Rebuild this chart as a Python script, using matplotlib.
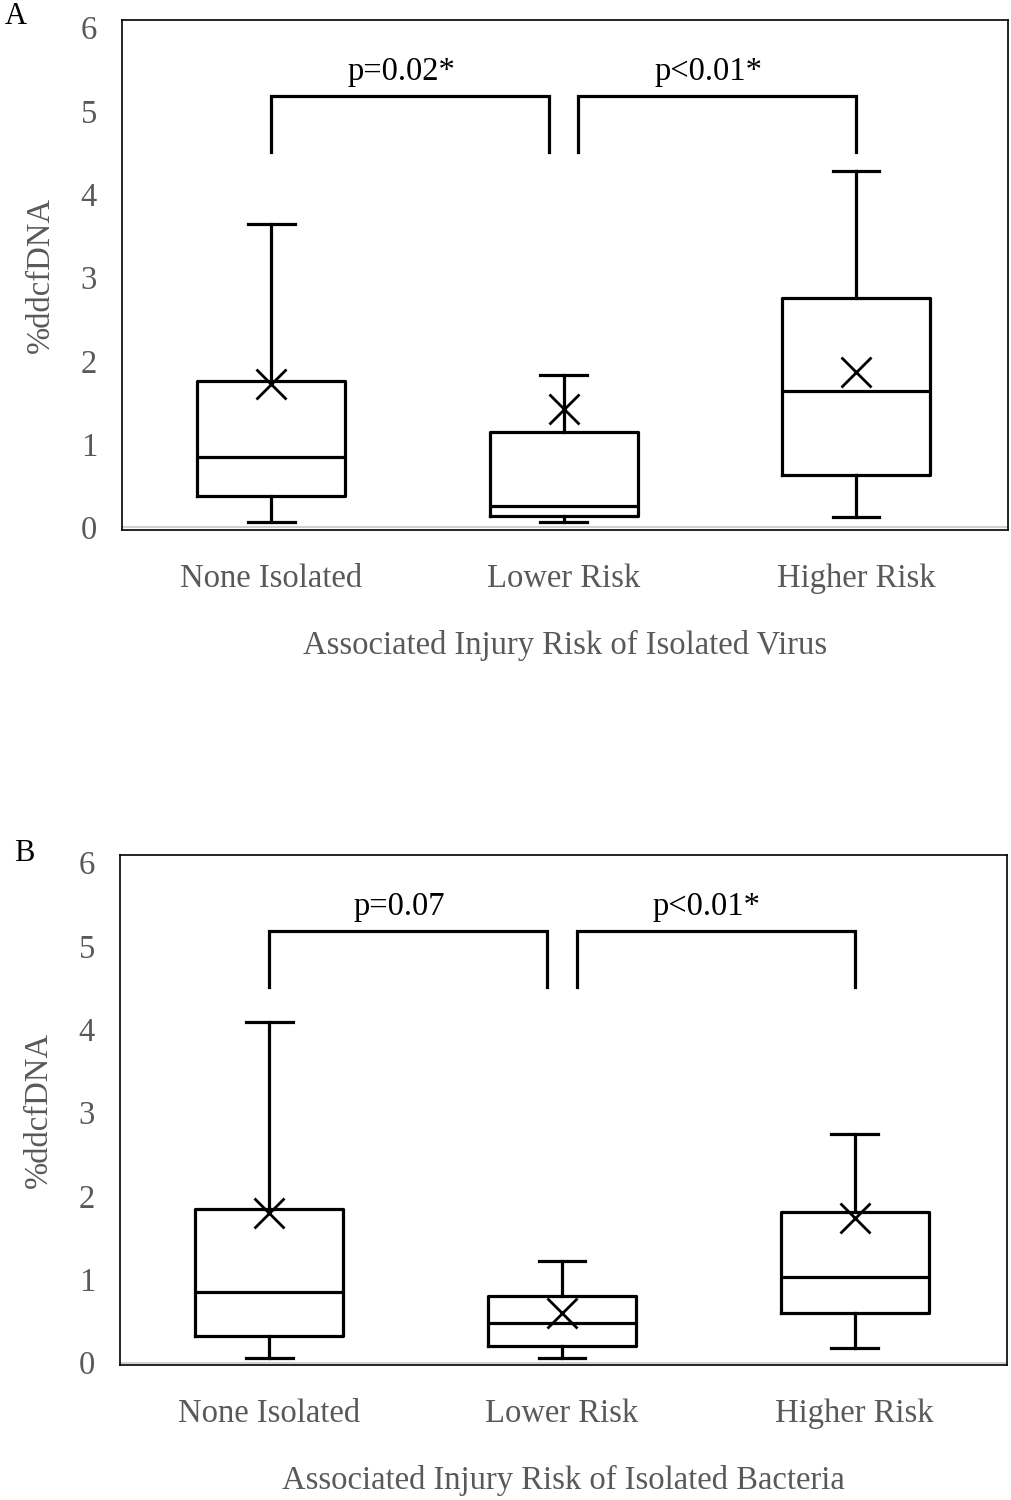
import matplotlib
matplotlib.use("Agg")
import matplotlib.pyplot as plt

plt.rcParams['font.family'] = ['Liberation Serif', 'DejaVu Serif']

categories = ["None Isolated", "Lower Risk", "Higher Risk"]
yticks = [0, 1, 2, 3, 4, 5, 6]

# Panel A (virus)
a_whislo = [0.06, 0.06, 0.12]
a_q1 = [0.38, 0.14, 0.63]
a_med = [0.85, 0.26, 1.64]
a_q3 = [1.76, 1.14, 2.75]
a_whishi = [3.64, 1.83, 4.28]
a_mean = [1.72, 1.42, 1.86]
a_pvals = ["p=0.02*", "p<0.01*"]

# Panel B (bacteria)
b_whislo = [0.06, 0.06, 0.18]
b_q1 = [0.32, 0.20, 0.60]
b_med = [0.85, 0.48, 1.03]
b_q3 = [1.84, 0.80, 1.81]
b_whishi = [4.09, 1.22, 2.74]
b_mean = [1.79, 0.60, 1.74]
b_pvals = ["p=0.07", "p<0.01*"]

fig = plt.figure(figsize=(10.12, 15), dpi=100)

GRAY = "#595959"
FS = 23.5


def panel(rect, whislo, q1, med, q3, whishi, mean, pvals, xlabel, letter, letter_xy):
    ax = fig.add_axes(rect)
    stats = []
    for i in range(3):
        stats.append(dict(whislo=whislo[i], q1=q1[i], med=med[i], q3=q3[i],
                          whishi=whishi[i], mean=mean[i], fliers=[]))
    lw = 2.3
    ax.bxp(stats, positions=range(3), widths=0.506, showmeans=True,
           showfliers=False,
           boxprops=dict(color="black", linewidth=lw),
           medianprops=dict(color="black", linewidth=lw),
           whiskerprops=dict(color="black", linewidth=lw),
           capprops=dict(color="black", linewidth=lw),
           capwidths=0.16,
           meanprops=dict(marker="x", markersize=22, markeredgecolor="black",
                          markeredgewidth=2.0))
    ax.set_xlim(-0.51, 2.52)
    ax.set_ylim(-0.03, 6.09)
    ax.axhline(0, color="#d0d0d0", linewidth=1.5, zorder=0)
    ax.set_yticks(yticks)
    ax.set_xticks(range(3))
    ax.set_xticklabels(categories)
    ax.tick_params(axis="both", length=0, labelsize=FS, labelcolor=GRAY)
    ax.tick_params(axis="y", pad=18)
    ax.tick_params(axis="x", pad=24)
    for s in ax.spines.values():
        s.set_linewidth(1.2)
        s.set_color("black")
    ax.set_xlabel(xlabel, fontsize=FS, color=GRAY, labelpad=26)
    ax.set_ylabel("%ddcfDNA", fontsize=FS, color=GRAY, labelpad=18)
    # significance brackets
    top = 5.18
    drops = 4.5
    for (x0, x1), txt in zip([(0, 0.95), (1.05, 2.0)], pvals):
        ax.plot([x0, x0, x1, x1], [drops, top, top, drops], color="black",
                linewidth=2.3, solid_joinstyle="miter")
        ax.text((x0 + x1) / 2 - 0.03, top + 0.10, txt, ha="center", va="bottom",
                fontsize=FS, color="black")
    fig.text(letter_xy[0], letter_xy[1], letter, fontsize=22, color="black",
             ha="left", va="center")
    return ax


panel([0.1206, 0.6467, 0.8754, 0.34], a_whislo, a_q1, a_med, a_q3, a_whishi,
      a_mean, a_pvals, "Associated Injury Risk of Isolated Virus", "A",
      (0.005, 0.989))
panel([0.1186, 0.09, 0.8764, 0.34], b_whislo, b_q1, b_med, b_q3, b_whishi,
      b_mean, b_pvals, "Associated Injury Risk of Isolated Bacteria", "B",
      (0.014, 0.431))

fig.savefig("out.png", dpi=100, facecolor="white")
